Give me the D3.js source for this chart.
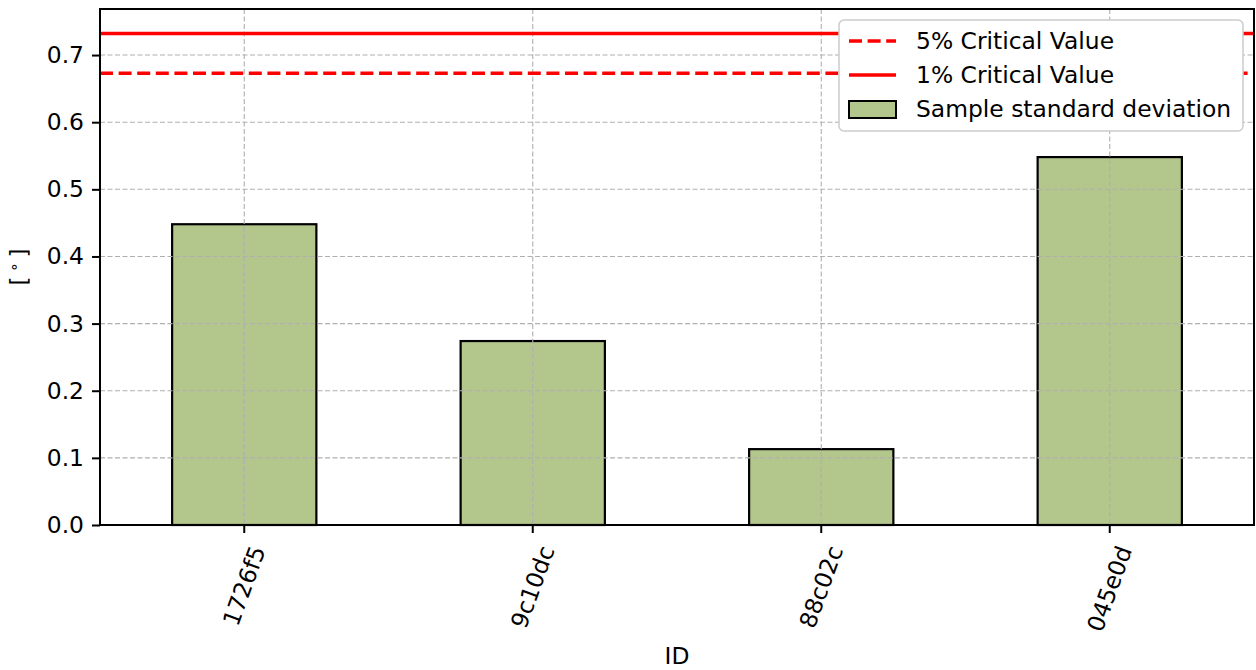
<!DOCTYPE html>
<html><head><meta charset="utf-8">
<script src="https://cdn.jsdelivr.net/npm/d3@7"></script>
<style>body{margin:0;background:#fff;} text{font-family:"DejaVu Sans",sans-serif;}</style>
</head><body>
<svg id="chart" width="1256" height="670"></svg>
<script>
const categories = ["1726f5", "9c10dc", "88c02c", "045e0d"];
const stdValues = [0.448, 0.274, 0.113, 0.548];
const crit5 = 0.673;
const crit1 = 0.732;
const yTicks = [0.0, 0.1, 0.2, 0.3, 0.4, 0.5, 0.6, 0.7];
const legendLabels = ["5% Critical Value", "1% Critical Value", "Sample standard deviation"];

const W = 1256, H = 670;
const m = {left: 100, right: 2, top: 9, bottom: 145};
const svg = d3.select("#chart");
const iw = W - m.left - m.right, ih = H - m.top - m.bottom;
const g = svg.append("g").attr("transform", `translate(${m.left},${m.top})`);

const x = d3.scaleBand().domain(categories).range([0, iw]).paddingInner(0.5).paddingOuter(0.25);
const y = d3.scaleLinear().domain([0, crit1 * 1.05]).range([ih, 0]);

const fs = 23.4;
const barColor = "#b3c68c";

// bars
g.selectAll("rect.bar").data(categories).join("rect")
  .attr("class", "bar")
  .attr("x", d => x(d)).attr("y", (d, i) => y(stdValues[i]))
  .attr("width", x.bandwidth()).attr("height", (d, i) => y(0) - y(stdValues[i]))
  .attr("fill", barColor).attr("stroke", "#000").attr("stroke-width", 2.2);

// grid (drawn over bars)
const grid = g.append("g");
grid.selectAll("line.gy").data(yTicks).join("line")
  .attr("x1", 0).attr("x2", iw).attr("y1", d => y(d)).attr("y2", d => y(d))
  .attr("stroke", "#b0b0b0").attr("stroke-width", 1.1).attr("stroke-dasharray", "5,2.5");
grid.selectAll("line.gx").data(categories).join("line")
  .attr("x1", d => x(d) + x.bandwidth()/2).attr("x2", d => x(d) + x.bandwidth()/2)
  .attr("y1", 0).attr("y2", ih)
  .attr("stroke", "#b0b0b0").attr("stroke-width", 1.1).attr("stroke-dasharray", "5,2.5");

// critical lines
g.append("line").attr("x1", 0).attr("x2", iw).attr("y1", y(crit5)).attr("y2", y(crit5))
  .attr("stroke", "red").attr("stroke-width", 3.5).attr("stroke-dasharray", "13,5.6");
g.append("line").attr("x1", 0).attr("x2", iw).attr("y1", y(crit1)).attr("y2", y(crit1))
  .attr("stroke", "red").attr("stroke-width", 3.5);

// y axis
const yAxis = d3.axisLeft(y).tickValues(yTicks).tickFormat(d3.format(".1f")).tickSize(8).tickPadding(8);
const ya = g.append("g").call(yAxis);
ya.select(".domain").remove();
ya.selectAll(".tick line").attr("stroke", "#000").attr("stroke-width", 2);
ya.selectAll(".tick text").attr("font-size", fs).attr("fill", "#000").style("font-family", "DejaVu Sans");

// x axis
const xAxis = d3.axisBottom(x).tickSize(8).tickPadding(0);
const xa = g.append("g").attr("transform", `translate(0,${ih})`).call(xAxis);
xa.select(".domain").remove();
xa.selectAll(".tick line").attr("stroke", "#000").attr("stroke-width", 2);
xa.selectAll(".tick text").each(function() {
  const t = d3.select(this);
  t.attr("font-size", fs).attr("fill", "#000").style("font-family", "DejaVu Sans")
   .attr("text-anchor", "middle").attr("dy", null).attr("dominant-baseline", "central");
  const w = this.getComputedTextLength();
  const a = 70 * Math.PI / 180;
  const bh = w * Math.sin(a) + fs * 1.0 * Math.cos(a);
  const cy = 18 + bh / 2;
  t.attr("y", 0).attr("transform", `translate(0,${cy}) rotate(-70)`);
});

// frame
g.append("rect").attr("x", 0).attr("y", 0).attr("width", iw).attr("height", ih)
  .attr("fill", "none").attr("stroke", "#000").attr("stroke-width", 2);

// axis labels
svg.append("text").attr("x", m.left + iw/2).attr("y", 664).attr("text-anchor", "middle")
  .attr("font-size", fs).text("ID");
svg.append("text").attr("transform", `translate(27,${m.top + ih/2}) rotate(-90)`)
  .attr("text-anchor", "middle").attr("font-size", fs)
  .html('[<tspan font-size="15" dy="-8"> ∘ </tspan><tspan dy="8">]</tspan>');

// legend
const lg = svg.append("g").attr("transform", "translate(839,20)");
lg.append("rect").attr("width", 404).attr("height", 111).attr("rx", 5)
  .attr("fill", "white").attr("stroke", "#cccccc").attr("stroke-width", 1.5);
const rows = [21, 55, 89];
lg.append("line").attr("x1", 10).attr("x2", 57).attr("y1", rows[0]).attr("y2", rows[0])
  .attr("stroke", "red").attr("stroke-width", 3.5).attr("stroke-dasharray", "13,5.6");
lg.append("line").attr("x1", 10).attr("x2", 57).attr("y1", rows[1]).attr("y2", rows[1])
  .attr("stroke", "red").attr("stroke-width", 3.5);
lg.append("rect").attr("x", 10).attr("y", rows[2] - 8).attr("width", 47).attr("height", 17)
  .attr("fill", barColor).attr("stroke", "#000").attr("stroke-width", 2);
lg.selectAll("text.leg").data(legendLabels).join("text")
  .attr("x", 77).attr("y", (d, i) => rows[i]).attr("dominant-baseline", "central")
  .attr("font-size", fs).text(d => d);
</script>
</body></html>
